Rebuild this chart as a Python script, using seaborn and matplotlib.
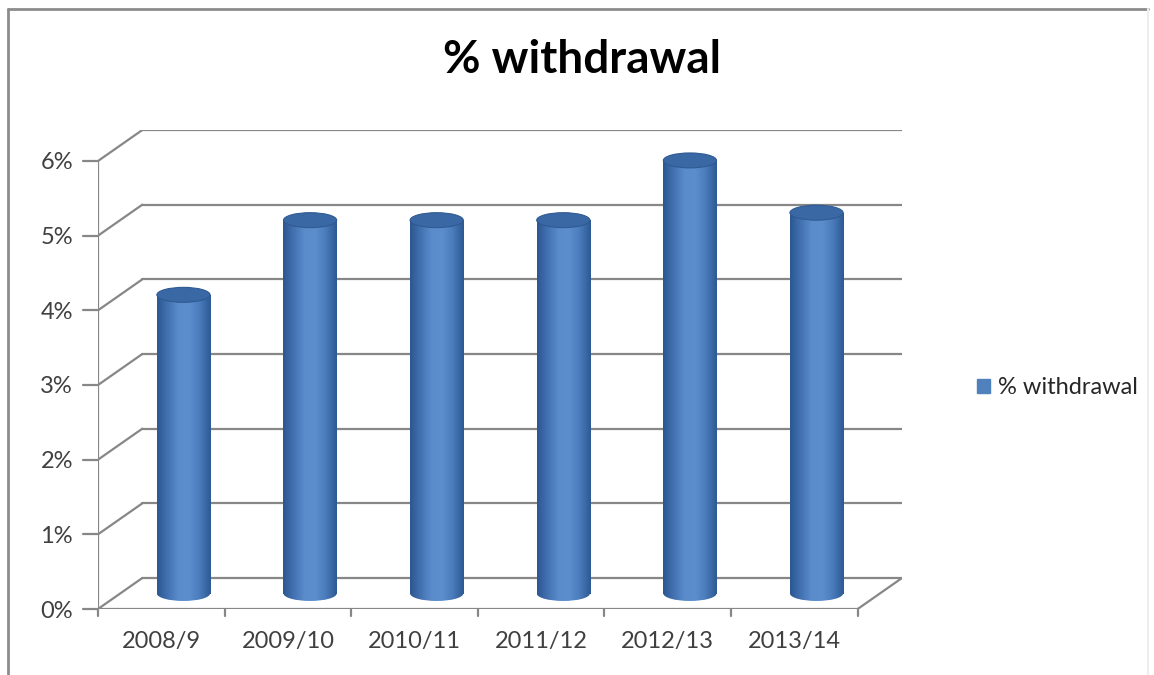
import numpy as np
import pandas as pd
import matplotlib
matplotlib.use("Agg")
import matplotlib.pyplot as plt
import seaborn as sns
from matplotlib.patches import Ellipse, Patch
from matplotlib.colors import LinearSegmentedColormap
from matplotlib.lines import Line2D

# data
years = ["2008/9", "2009/10", "2010/11", "2011/12", "2012/13", "2013/14"]
withdrawal = [4.0, 5.0, 5.0, 5.0, 5.8, 5.1]
y_ticks = [0, 1, 2, 3, 4, 5, 6]
series_name = "% withdrawal"

df = pd.DataFrame({"year": years, "pct": withdrawal})

sns.set_theme(style="white")
plt.rcParams["font.family"] = ["Lato", "DejaVu Sans"]

# fake 3d: depth offset in data units
DX = 0.35
DY = 0.415
grid_c = "#878787"
bar_w = 0.42
ell_h = 0.2

fig = plt.figure(figsize=(11.54, 6.75), dpi=100)
ax = fig.add_axes([98 / 1154, 66 / 675, 804 / 1154, 479 / 675])

sns.barplot(data=df, x="year", y="pct", color="#4F81BD", width=bar_w,
            ax=ax, saturation=1, zorder=3)

# back wall grid + left wall diagonals
for v in y_ticks:
    ax.plot([-0.5 + DX, 5.5 + DX], [v + DY, v + DY], color=grid_c, lw=1.6, zorder=1)
    ax.plot([-0.5, -0.5 + DX], [v, v + DY], color=grid_c, lw=1.6, zorder=1)
    ax.plot([-0.62, -0.5], [v, v], color=grid_c, lw=1.6, zorder=1, clip_on=False)
# front axis lines
ax.plot([-0.5, -0.5], [0, y_ticks[-1]], color=grid_c, lw=1.6, zorder=1)
ax.plot([-0.5, len(years) - 0.5], [0, 0], color=grid_c, lw=1.6, zorder=1)
ax.plot([len(years) - 0.5, len(years) - 0.5 + DX], [0, DY], color=grid_c, lw=1.6, zorder=1)
for b in np.arange(len(years) + 1) - 0.5:
    ax.plot([b, b], [0, -0.1], color=grid_c, lw=1.6, zorder=1, clip_on=False)

# cylinder shading
cyl = LinearSegmentedColormap.from_list(
    "cyl", ["#2C5791", "#4473B3", "#5A8BCB", "#5C8ECE", "#4A7BBB", "#2E5A94"])
grad = np.linspace(0, 1, 64).reshape(1, -1)

for p, v in zip(ax.patches, withdrawal):
    x0 = p.get_x() + DX / 2
    p.set_x(x0)
    p.set_y(DY / 2)
    p.set_height(v)
    p.set_visible(False)
    xc = x0 + bar_w / 2
    body = plt.Rectangle((x0, DY / 2), bar_w, v, transform=ax.transData)
    im = ax.imshow(grad, cmap=cyl, aspect="auto", zorder=3,
                   extent=[x0, x0 + bar_w, DY / 2, v + DY / 2])
    im.set_clip_path(body)
    bot = Ellipse((xc, DY / 2), bar_w, ell_h, transform=ax.transData)
    im2 = ax.imshow(grad, cmap=cyl, aspect="auto", zorder=3,
                    extent=[x0, x0 + bar_w, DY / 2 - ell_h, DY / 2 + ell_h])
    im2.set_clip_path(bot)
    ax.add_patch(Ellipse((xc, v + DY / 2), bar_w, ell_h, facecolor="#3A68A4",
                         edgecolor="#2F5A92", lw=0.8, zorder=4))

ax.set_xlim(-0.5, len(years) - 0.5 + DX)
ax.set_ylim(0, y_ticks[-1] + DY)
ax.set_yticks(y_ticks)
ax.set_yticklabels([f"{v}%" for v in y_ticks], fontsize=17, color="#404040")
ax.set_xticks(range(len(years)))
ax.set_xticklabels(years, fontsize=17, color="#404040")
ax.tick_params(axis="y", length=0, pad=18)
ax.tick_params(axis="x", length=0, pad=16)
ax.set_xlabel("")
ax.set_ylabel("")
for s in ax.spines.values():
    s.set_visible(False)
ax.patch.set_alpha(0)

fig.text(582 / 1154, 1 - 60 / 675, "% withdrawal", fontsize=33, fontweight="bold",
         ha="center", va="center", color="black")

fig.legend(handles=[Patch(facecolor="#4F81BD", edgecolor="#4F81BD")],
           labels=[series_name], loc="center left",
           bbox_to_anchor=(956 / 1154, 1 - 388 / 675), frameon=False,
           fontsize=17, handlelength=0.55, handleheight=0.55, handletextpad=0.35)

# chart frame
fig.add_artist(Line2D([8 / 1154, 1148 / 1154], [1 - 9 / 675, 1 - 9 / 675],
                      color="#8C8C8C", lw=2, transform=fig.transFigure))
fig.add_artist(Line2D([8 / 1154, 8 / 1154], [0, 1 - 9 / 675],
                      color="#8C8C8C", lw=2, transform=fig.transFigure))
fig.add_artist(Line2D([1148 / 1154, 1148 / 1154], [0, 1 - 9 / 675],
                      color="#EEEEEE", lw=1.5, transform=fig.transFigure))

fig.savefig("out.png", dpi=100, facecolor="white")
